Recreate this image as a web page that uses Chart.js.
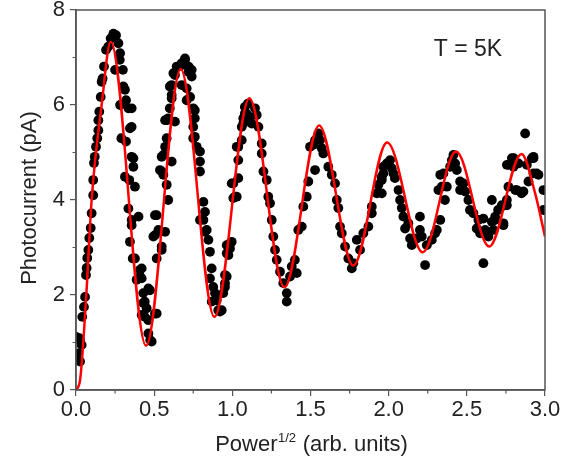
<!DOCTYPE html>
<html>
<head>
<meta charset="utf-8">
<script src="https://cdn.jsdelivr.net/npm/chart.js@4.4.1/dist/chart.umd.min.js"></script>
<style>
  html, body { margin: 0; padding: 0; background: #fff; }
</style>
</head>
<body>
<canvas id="chart" width="561" height="462"></canvas>
<script>
const measured = [
  [0.00,1.12],[0.015,0.77],[0.021,1.09],[0.026,0.60],[0.026,1.05],[0.036,0.95],[0.04,1.54],
  [0.051,1.75],[0.058,1.96],[0.064,2.42],[0.068,2.57],[0.072,2.78],[0.079,2.95],[0.085,3.20],
  [0.094,3.41],[0.10,3.72],[0.11,4.10],[0.11,4.42],[0.115,4.78],[0.12,4.91],[0.128,5.12],
  [0.136,5.30],[0.143,5.47],[0.143,5.68],[0.149,5.86],[0.158,6.17],[0.164,6.49],[0.17,6.56],
  [0.179,6.81],[0.192,7.16],[0.207,7.23],[0.222,7.40],[0.239,7.50],[0.256,7.47],[0.271,7.30],
  [0.282,7.09],[0.25,6.74],
  [0.28,6.95],[0.30,6.74],[0.303,6.39],[0.313,6.32],[0.282,6.00],[0.32,6.10],[0.335,5.93],
  [0.356,5.93],[0.345,5.51],[0.356,5.54],[0.29,5.30],[0.32,5.23],[0.356,4.91],[0.367,4.88],
  [0.367,4.70],[0.313,4.49],[0.341,4.42],[0.377,4.28],[0.335,3.82],[0.356,3.58],[0.356,3.47],
  [0.40,3.65],[0.345,3.12],[0.363,2.77],[0.377,2.77],[0.42,2.56],[0.41,2.53],[0.42,2.35],
  [0.388,2.32],[0.41,2.39],[0.463,2.14],[0.473,2.10],[0.43,2.04],[0.43,1.83],[0.44,1.86],
  [0.452,1.72],[0.42,1.58],[0.44,1.54],[0.463,1.47],[0.505,1.61],[0.516,1.61],[0.463,1.19],
  [0.484,1.02],[0.475,1.05],
  [0.516,2.77],[0.505,3.26],[0.495,3.23],[0.527,3.37],[0.505,3.68],[0.516,3.68],[0.548,3.02],
  [0.548,2.95],[0.57,3.33],[0.59,4.00],[0.58,4.32],[0.559,4.53],[0.537,4.63],[0.548,4.60],
  [0.548,4.91],[0.559,4.95],[0.612,4.81],[0.57,5.12],[0.58,5.30],[0.57,5.68],[0.58,5.68],
  [0.59,5.72],[0.633,5.65],[0.60,5.93],[0.612,6.14],[0.612,6.21],[0.60,6.39],[0.612,6.42],
  [0.623,6.67],[0.633,6.63],[0.644,6.81],[0.655,6.81],[0.676,6.84],[0.676,6.88],[0.697,6.95],
  [0.697,6.98],[0.72,6.81],[0.72,6.70],[0.74,6.74],[0.74,6.60],[0.676,6.42],[0.708,6.35],
  [0.73,6.17],[0.708,6.10],[0.75,5.93],[0.76,5.89],[0.76,5.72],[0.75,5.54],[0.76,5.33],
  [0.75,5.30],[0.772,5.12],[0.793,5.02],[0.793,4.81],[0.793,4.60],[0.815,3.96],[0.825,3.75],
  [0.793,3.58],[0.815,3.58],[0.836,3.37],[0.825,3.33],[0.847,3.16],[0.857,2.91],[0.868,2.56],
  [0.857,2.35],[0.878,2.17],[0.889,2.04],[0.868,1.86],[0.90,1.89],[0.91,1.68],[0.921,1.65],
  [0.932,1.68],[0.942,2.04],[0.953,2.17],[0.953,2.25],[0.964,2.39],[0.953,2.42],[0.964,2.88],
  [0.964,3.05],[0.975,2.84],[0.985,2.98],[0.985,3.09],[0.996,3.12],
  [1.006,4.04],[1.017,4.07],[1.028,4.07],[1.006,4.35],[0.996,4.35],[1.038,4.46],[1.038,4.84],
  [1.028,5.12],[1.038,5.12],[1.06,5.26],[1.06,5.54],[1.07,5.61],[1.07,5.72],[1.08,5.82],
  [1.08,5.96],[1.10,6.03],[1.09,5.82],[1.113,5.75],[1.124,5.61],[1.145,5.93],[1.156,5.79],
  [1.167,5.54],[1.188,5.19],[1.188,4.98],[1.199,4.60],[1.22,4.42],[1.23,4.07],[1.241,3.93],
  [1.252,3.58],[1.262,3.23],[1.273,2.95],[1.284,2.74],[1.305,2.49],[1.326,2.25],[1.348,2.04],
  [1.348,1.86],[1.369,2.39],[1.38,2.60],[1.40,2.74],[1.412,2.46],[1.422,3.37],[1.444,3.44],
  [1.454,3.86],[1.476,4.07],[1.486,4.39],[1.529,4.63],[1.497,5.12],[1.518,5.16],[1.529,5.26],
  [1.55,5.40],[1.561,5.26],[1.572,5.09],[1.582,4.98],[1.614,4.70],[1.636,4.53],[1.657,4.35],
  [1.668,4.00],[1.678,3.83],[1.689,3.44],[1.70,3.30],[1.721,3.02],[1.742,2.77],[1.764,2.56],
  [1.774,2.67],[1.796,3.16],[1.817,2.95],[1.838,3.30],[1.87,3.44],[1.892,3.72],[1.892,3.86],
  [1.924,4.14],[1.934,4.32],[1.956,4.42],[1.966,4.56],[1.988,4.74],
  [1.966,4.70],[1.956,4.49],[1.956,4.14],[1.988,4.77],[2.009,4.84],[2.02,4.67],[2.03,4.56],
  [2.04,4.46],[2.063,4.21],[2.073,4.00],[2.084,3.83],[2.094,3.65],[2.105,3.40],[2.126,3.51],
  [2.137,3.19],[2.148,3.05],[2.18,3.19],[2.20,3.65],[2.20,3.37],[2.212,3.23],[2.233,2.63],
  [2.244,3.05],[2.276,3.16],[2.297,3.30],[2.308,3.37],[2.33,3.58],[2.318,4.21],[2.34,4.28],
  [2.33,4.53],[2.35,4.56],[2.36,4.00],[2.372,4.28],[2.393,4.70],[2.404,4.84],[2.414,4.95],
  [2.425,4.77],[2.436,4.63],[2.457,4.39],[2.457,4.21],[2.478,4.35],[2.489,4.18],[2.51,4.00],
  [2.52,3.79],[2.542,3.72],[2.563,3.40],[2.574,3.58],[2.585,3.30],[2.606,3.61],[2.617,3.37],
  [2.606,2.67],[2.638,3.23],[2.66,4.00],[2.66,3.54],[2.681,3.65],[2.68,3.58],[2.67,3.37],
  [2.70,3.79],[2.724,3.89],[2.723,3.86],[2.734,3.51],[2.734,3.47],[2.756,4.00],[2.756,3.89],
  [2.766,4.28],[2.756,4.74],[2.766,4.74],[2.788,4.88],[2.80,4.88],[2.798,4.70],[2.81,4.21],
  [2.82,4.21],[2.83,4.77],[2.85,4.14],[2.862,4.18],[2.873,5.40],[2.884,4.74],[2.894,4.39],
  [2.916,4.88],[2.926,4.91],[2.926,4.88],[2.926,4.56],[2.947,4.56],[2.958,4.53],[2.99,4.21],
  [2.99,3.79]
];

// red fit curve, read at its turning points
const fitX = [0, 0.026, 0.064, 0.10, 0.164, 0.222, 0.448, 0.67, 0.885, 1.109, 1.333, 1.555,
  1.774, 1.99, 2.218, 2.431, 2.643, 2.85, 2.937, 3.0];
const fitY = [0, 0.21, 1.9, 4.0, 6.0, 7.33, 0.93, 6.76, 1.54, 6.14, 2.16, 5.57,
  2.62, 5.21, 2.90, 5.02, 3.02, 4.97, 4.14, 3.23];

const xTickLabels = ['0.0', '0.5', '1.0', '1.5', '2.0', '2.5', '3.0'];
const yTickLabels = ['0', '2', '4', '6', '8'];
const tempLabel = 'T = 5K';

const FONT = '"Liberation Sans", Arial, sans-serif';
const INK = '#222';
const AXIS = '#555';

// frame, minor ticks, axis titles and the temperature note
const extras = {
  id: 'extras',
  afterDraw(chart) {
    const { ctx, chartArea: a, scales } = chart;
    ctx.save();
    ctx.strokeStyle = AXIS;
    ctx.lineWidth = 1.5;
    ctx.strokeRect(a.left, a.top, a.right - a.left, a.bottom - a.top);

    ctx.lineWidth = 1.2;
    ctx.beginPath();
    for (let v = 0.25; v < 3; v += 0.5) {
      const px = scales.x.getPixelForValue(v);
      ctx.moveTo(px, a.bottom);
      ctx.lineTo(px, a.bottom + 3.5);
    }
    for (let v = 1; v < 8; v += 2) {
      const py = scales.y.getPixelForValue(v);
      ctx.moveTo(a.left, py);
      ctx.lineTo(a.left - 3.5, py);
    }
    ctx.stroke();

    ctx.fillStyle = INK;
    ctx.textBaseline = 'alphabetic';

    // y title
    ctx.save();
    ctx.translate(36, 198);
    ctx.rotate(-Math.PI / 2);
    ctx.textAlign = 'center';
    ctx.font = '22px ' + FONT;
    ctx.fillText('Photocurrent (pA)', 0, 0);
    ctx.restore();

    // x title with superscript
    const big = '22px ' + FONT, small = '13px ' + FONT;
    ctx.font = big;
    const w1 = ctx.measureText('Power').width;
    const w3 = ctx.measureText(' (arb. units)').width;
    ctx.font = small;
    const w2 = ctx.measureText('1/2').width;
    let x0 = 311 - (w1 + w2 + w3) / 2;
    const base = 451;
    ctx.textAlign = 'left';
    ctx.font = big;
    ctx.fillText('Power', x0, base);
    ctx.font = small;
    ctx.fillText('1/2', x0 + w1 + 0.5, base - 9);
    ctx.font = big;
    ctx.fillText(' (arb. units)', x0 + w1 + w2 + 1, base);

    // temperature note
    ctx.textAlign = 'center';
    ctx.font = '23px ' + FONT;
    ctx.fillText(tempLabel, 468, 56);
    ctx.restore();
  }
};

new Chart(document.getElementById('chart'), {
  type: 'scatter',
  data: {
    datasets: [
      {
        label: 'fit',
        data: fitX.map((x, i) => ({ x: x, y: fitY[i] })),
        showLine: true,
        borderColor: '#ff0000',
        borderWidth: 2.5,
        pointRadius: 0,
        cubicInterpolationMode: 'monotone',
        order: 0
      },
      {
        label: 'data',
        data: measured.map(p => ({ x: p[0], y: p[1] })),
        backgroundColor: '#000',
        borderColor: '#000',
        borderWidth: 0,
        pointRadius: 4.9,
        order: 1
      }
    ]
  },
  plugins: [extras],
  options: {
    responsive: false,
    animation: false,
    events: [],
    layout: { padding: { left: 0, right: 16, top: 10, bottom: 0 } },
    plugins: { legend: { display: false }, tooltip: { enabled: false } },
    scales: {
      x: {
        type: 'linear',
        min: 0,
        max: 3,
        afterFit: s => { s.height = 72; s.paddingLeft = 0; s.paddingRight = 0; },
        border: { color: AXIS, width: 1.5 },
        grid: { drawOnChartArea: false, drawTicks: true, tickLength: 6, color: AXIS, lineWidth: 1.2 },
        ticks: {
          stepSize: 0.5,
          padding: 1,
          maxRotation: 0,
          color: INK,
          font: { family: FONT, size: 22 },
          callback: v => xTickLabels[Math.round(v / 0.5)]
        }
      },
      y: {
        type: 'linear',
        min: 0,
        max: 8,
        afterFit: s => { s.width = 76; s.paddingTop = 0; s.paddingBottom = 0; },
        border: { color: AXIS, width: 1.5 },
        grid: { drawOnChartArea: false, drawTicks: true, tickLength: 6, color: AXIS, lineWidth: 1.2 },
        ticks: {
          stepSize: 2,
          padding: 5,
          color: INK,
          font: { family: FONT, size: 22 },
          callback: v => yTickLabels[Math.round(v / 2)]
        }
      }
    }
  }
});
</script>
</body>
</html>
